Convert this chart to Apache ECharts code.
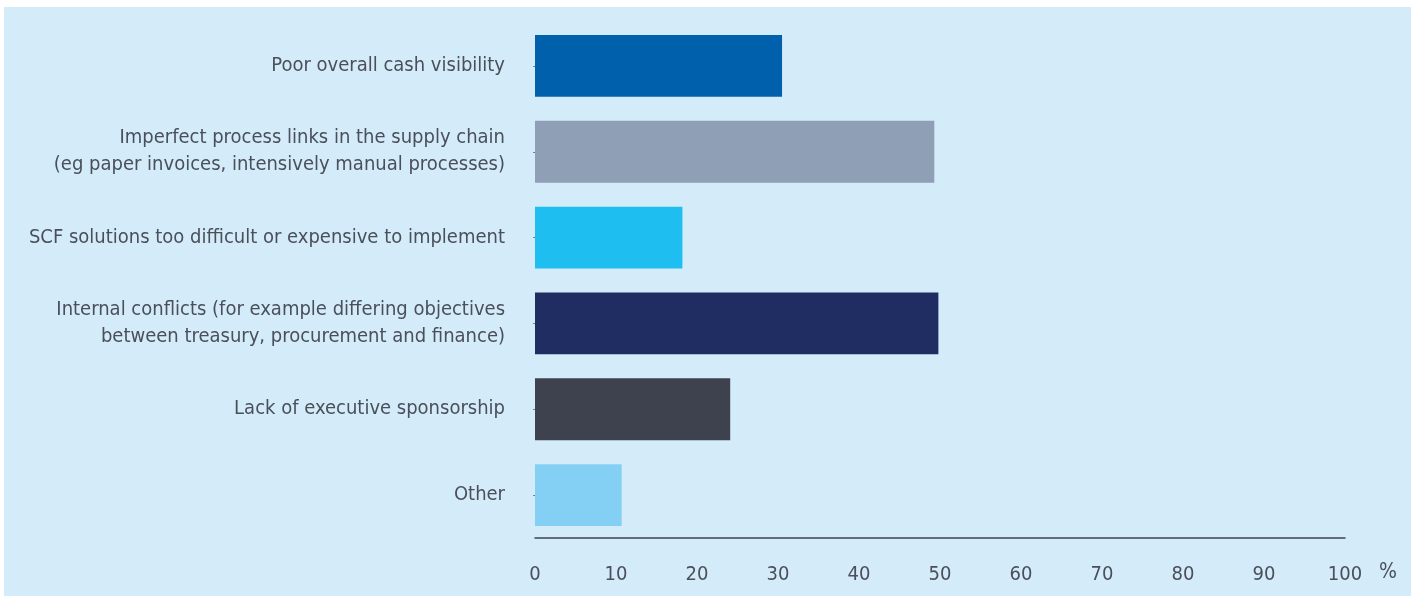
<!DOCTYPE html>
<html>
<head>
<meta charset="utf-8">
<script src="https://cdn.jsdelivr.net/npm/echarts@6/dist/echarts.min.js"></script>
<style>
html,body{margin:0;padding:0;background:#ffffff;}
#chart{width:1415px;height:596px;}
</style>
</head>
<body>
<div id="chart"></div>
<script>
const categories = [
  "Poor overall cash visibility",
  "Imperfect process links in the supply chain\n(eg paper invoices, intensively manual processes)",
  "SCF solutions too difficult or expensive to implement",
  "Internal conflicts (for example differing objectives\nbetween treasury, procurement and finance)",
  "Lack of executive sponsorship",
  "Other"
];
const values = [30.5, 49.3, 18.2, 49.8, 24.1, 10.7];
const barColors = ["#0060AC", "#8F9FB5", "#1FBEF0", "#1F2D63", "#3E424F", "#84D0F5"];
const xTicks = [0, 10, 20, 30, 40, 50, 60, 70, 80, 90, 100];
const unitLabel = "%";

const textColor = "#4A4F5A";
const fontFamily = "'Liberation Sans Narrow', 'DejaVu Sans Condensed', sans-serif";

const chart = echarts.init(document.getElementById('chart'));
chart.setOption({
  backgroundColor: 'transparent',
  animation: false,
  graphic: [
    { type: 'rect', z: -10, silent: true, shape: { x: 4, y: 7, width: 1407, height: 589 }, style: { fill: '#D4ECFA' } },
    { type: 'text', left: 1379, top: 562, style: { text: unitLabel, fill: textColor, font: "21px " + fontFamily } }
  ],
  grid: { left: 535, right: 70, top: 23, bottom: 58, containLabel: false },
  xAxis: {
    type: 'value',
    min: xTicks[0],
    max: xTicks[xTicks.length - 1],
    interval: 10,
    axisLine: { show: true, lineStyle: { color: '#3F4450', width: 1.5 } },
    axisTick: { show: false },
    splitLine: { show: false },
    axisLabel: { color: textColor, fontSize: 20, fontFamily: fontFamily, margin: 27 }
  },
  yAxis: {
    type: 'category',
    inverse: true,
    data: categories,
    axisLine: { show: false },
    axisTick: { show: true, alignWithLabel: true, length: 2, lineStyle: { color: '#7A808C' } },
    axisLabel: { color: textColor, fontSize: 20, fontFamily: fontFamily, margin: 30, lineHeight: 27, align: 'right', padding: [9, 0, 0, 0] }
  },
  series: [{
    type: 'bar',
    data: values.map((v, i) => ({ value: v, itemStyle: { color: barColors[i] } })),
    barCategoryGap: '28%'
  }]
});
</script>
</body>
</html>
